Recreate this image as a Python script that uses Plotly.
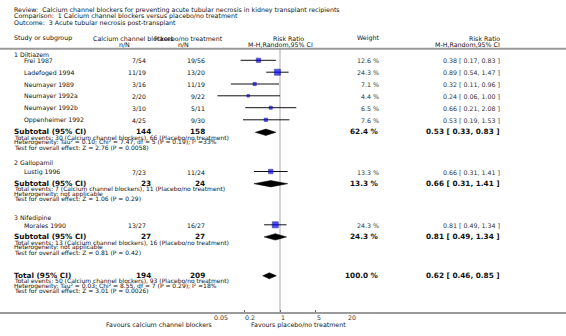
import math
import plotly.graph_objects as go

W, H = 566, 336

# ---------------- data ----------------
title_lines = [
    "Review:  Calcium channel blockers for preventing acute tubular necrosis in kidney transplant recipients",
    "Comparison:  1 Calcium channel blockers versus placebo/no treatment",
    "Outcome:  3 Acute tubular necrosis post-transplant",
]
col_headers = ["Study or subgroup", "Calcium channel blockers", "Placebo/no treatment",
               "Risk Ratio", "Weight", "Risk Ratio"]
sub_headers = ["n/N", "n/N", "M-H,Random,95% CI", "M-H,Random,95% CI"]

groups = ["1 Diltiazem", "2 Gallopamil", "3 Nifedipine"]
study_names = ["Frei 1987", "Ladefoged 1994", "Neumayer 1989", "Neumayer 1992a",
               "Neumayer 1992b", "Oppenheimer 1992", "Lustig 1996", "Morales 1990"]
study_group = [0, 0, 0, 0, 0, 0, 1, 2]
ccb_events = [7, 11, 3, 2, 3, 4, 7, 13]
ccb_total = [54, 19, 16, 20, 10, 25, 23, 27]
pbo_events = [19, 13, 11, 9, 5, 9, 11, 16]
pbo_total = [56, 20, 19, 22, 11, 30, 24, 27]
weights = [12.6, 24.3, 7.1, 4.4, 6.5, 7.6, 13.3, 24.3]
rr = [0.38, 0.89, 0.32, 0.24, 0.66, 0.53, 0.66, 0.81]
rr_lo = [0.17, 0.54, 0.11, 0.06, 0.21, 0.19, 0.31, 0.49]
rr_hi = [0.83, 1.47, 0.96, 1.00, 2.08, 1.53, 1.41, 1.34]

sub_ccb_n = [144, 23, 27]
sub_pbo_n = [158, 24, 27]
sub_weight = [62.4, 13.3, 24.3]
sub_rr = [0.53, 0.66, 0.81]
sub_lo = [0.33, 0.31, 0.49]
sub_hi = [0.83, 1.41, 1.34]
sub_ccb_ev = [30, 7, 13]
sub_pbo_ev = [66, 11, 16]
sub_het = ["Heterogeneity: Tau² = 0.10; Chi² = 7.47, df = 5 (P = 0.19); I² =33%",
           "Heterogeneity: not applicable",
           "Heterogeneity: not applicable"]
sub_test = ["Test for overall effect: Z = 2.76 (P = 0.0058)",
            "Test for overall effect: Z = 1.06 (P = 0.29)",
            "Test for overall effect: Z = 0.81 (P = 0.42)"]

total_ccb_n, total_pbo_n = 194, 209
total_weight = 100.0
total_rr, total_lo, total_hi = 0.62, 0.46, 0.85
total_ccb_ev, total_pbo_ev = 50, 93
total_het = "Heterogeneity: Tau² = 0.03; Chi² = 8.55, df = 7 (P = 0.29); I² =18%"
total_test = "Test for overall effect: Z = 3.01 (P = 0.0026)"

tick_vals = [0.05, 0.2, 1, 5, 20]
tick_text = ["0.05", "0.2", "1", "5", "20"]
left_label = "Favours calcium channel blockers"
right_label = "Favours placebo/no treatment"

# ---------------- layout (pixel positions) ----------------
FONT = "DejaVu Sans"
TXT = "#111111"
SMALL = 6.3
NOTE = 6.0
ROW = 6.2
BOLD = 7.3

title_y = [9.8, 16.4, 23.0]
head_y1, head_y2 = 38.3, 44.5
group_y = [55.0, 163.3, 218.3]
study_y = [60.8, 72.7, 84.5, 96.3, 108.2, 120.3, 172.0, 225.3]
sub_y = [131.8, 183.2, 236.4]
total_y = 275.0
note_dy = [5.7, 10.7, 15.7]
axis_y = 313.0
header_line_y = 48.8

X_NAME, X_STUDY = 13, 23
X_C1, X_C1B = 146.5, 151.5
X_C2, X_C2B = 205.8, 206.0
X_W, X_RR = 379.5, 500.5
AX_L, AX_R = 213.3, 346.7

annotations = []


def txt(x, y, s, size=SMALL, anchor="left", bold=False, color=TXT):
    annotations.append(dict(
        xref="paper", yref="paper", x=x / W, y=1 - y / H, text=("<b>%s</b>" % s) if bold else s,
        showarrow=False, xanchor=anchor, yanchor="middle", borderpad=0,
        font=dict(family=FONT, size=size, color=color)))


# titles
for s, y in zip(title_lines, title_y):
    txt(X_NAME, y, s, SMALL)

# headers
txt(X_NAME, head_y1, col_headers[0], SMALL)
txt(91.5, head_y1, col_headers[1], SMALL)
txt(152.5, head_y1, col_headers[2], SMALL)
txt(288, head_y1, col_headers[3], SMALL, "center")
txt(X_W, head_y1, col_headers[4], SMALL, "right")
txt(X_RR, head_y1, col_headers[5], SMALL, "right")
txt(125, head_y2, sub_headers[0], SMALL, "center")
txt(183, head_y2, sub_headers[1], SMALL, "center")
txt(280, head_y2, sub_headers[2], SMALL, "center")
txt(X_RR, head_y2, sub_headers[3], SMALL, "right")

# groups
for g, y in zip(groups, group_y):
    txt(X_NAME, y, g, ROW)

# studies
for i, name in enumerate(study_names):
    y = study_y[i]
    txt(X_STUDY, y, name, ROW)
    txt(X_C1, y, "%d/%d" % (ccb_events[i], ccb_total[i]), ROW, "right")
    txt(X_C2, y, "%d/%d" % (pbo_events[i], pbo_total[i]), ROW, "right")
    txt(X_W, y, "%.1f %%" % weights[i], SMALL, "right", color="#333333")
    txt(X_RR, y, "%.2f [ %.2f, %.2f ]" % (rr[i], rr_lo[i], rr_hi[i]), SMALL, "right", color="#333333")

# subtotals
for k in range(len(groups)):
    y = sub_y[k]
    txt(X_NAME, y, "Subtotal (95% CI)", BOLD, bold=True)
    txt(X_C1B, y, str(sub_ccb_n[k]), BOLD, "right", bold=True)
    txt(X_C2B, y, str(sub_pbo_n[k]), BOLD, "right", bold=True)
    txt(X_W, y, "%.1f %%" % sub_weight[k], BOLD, "right", bold=True)
    txt(X_RR, y, "%.2f [ %.2f, %.2f ]" % (sub_rr[k], sub_lo[k], sub_hi[k]), BOLD, "right", bold=True)
    txt(X_NAME, y + note_dy[0],
        "Total events: %d (Calcium channel blockers), %d (Placebo/no treatment)" % (sub_ccb_ev[k], sub_pbo_ev[k]), NOTE)
    txt(X_NAME, y + note_dy[1], sub_het[k], NOTE)
    txt(X_NAME, y + note_dy[2], sub_test[k], NOTE)

# total
txt(X_NAME, total_y, "Total (95% CI)", BOLD, bold=True)
txt(X_C1B, total_y, str(total_ccb_n), BOLD, "right", bold=True)
txt(X_C2B, total_y, str(total_pbo_n), BOLD, "right", bold=True)
txt(X_W, total_y, "%.1f %%" % total_weight, BOLD, "right", bold=True)
txt(X_RR, total_y, "%.2f [ %.2f, %.2f ]" % (total_rr, total_lo, total_hi), BOLD, "right", bold=True)
txt(X_NAME, total_y + note_dy[0],
    "Total events: %d (Calcium channel blockers), %d (Placebo/no treatment)" % (total_ccb_ev, total_pbo_ev), NOTE)
txt(X_NAME, total_y + note_dy[1], total_het, NOTE)
txt(X_NAME, total_y + note_dy[2], total_test, NOTE)

# axis tick labels (left aligned at tick) and favours labels
for v, t in zip(tick_vals, tick_text):
    annotations.append(dict(
        xref="x", yref="paper", x=math.log10(v), y=1 - 317.6 / H, text=t, showarrow=False,
        xanchor="left", yanchor="middle", borderpad=0,
        font=dict(family=FONT, size=SMALL, color="#333333")))
txt(AX_L, 324.5, left_label, SMALL, "right")
txt(AX_R, 324.5, right_label, SMALL, "right")

# ---------------- traces ----------------
fig = go.Figure()

# line of no effect
fig.add_trace(go.Scatter(x=[1, 1], y=[header_line_y, axis_y], mode="lines",
                         line=dict(color="#d4d4d4", width=2), hoverinfo="skip"))

# study CIs and squares
for i in range(len(study_names)):
    y = study_y[i] - 0.5
    fig.add_trace(go.Scatter(x=[rr_lo[i], rr_hi[i]], y=[y, y], mode="lines",
                             line=dict(color="#111111", width=1), hoverinfo="skip"))
fig.add_trace(go.Scatter(
    x=rr, y=[y - 0.5 for y in study_y], mode="markers",
    marker=dict(symbol="square", color="#0000ff",
                size=[1.22 * math.sqrt(w) for w in weights],
                line=dict(color="#000080", width=0.7)),
    hoverinfo="skip"))


def diamond(lo, est, hi, yc, h):
    fig.add_trace(go.Scatter(x=[lo, est, hi, est, lo], y=[yc, yc - h, yc, yc + h, yc],
                             mode="lines", fill="toself", fillcolor="#000000",
                             line=dict(color="#000000", width=0.5), hoverinfo="skip"))


for k in range(len(groups)):
    diamond(sub_lo[k], sub_rr[k], sub_hi[k], sub_y[k] + 0.5, 3.2)
diamond(total_lo, total_rr, total_hi, total_y + 0.8, 3.0)

# ---------------- layout ----------------
shapes = [
    dict(type="line", xref="paper", yref="paper", x0=0, x1=1,
         y0=1 - header_line_y / H, y1=1 - header_line_y / H, line=dict(color="#9a9a9a", width=2)),
    dict(type="line", xref="paper", yref="paper", x0=0, x1=1,
         y0=1 - axis_y / H, y1=1 - axis_y / H, line=dict(color="#9a9a9a", width=2)),
]

fig.update_layout(
    width=W, height=H, margin=dict(l=0, r=0, t=0, b=0),
    paper_bgcolor="white", plot_bgcolor="rgba(0,0,0,0)",
    showlegend=False, annotations=annotations, shapes=shapes,
    xaxis=dict(type="log", range=[math.log10(tick_vals[0]), math.log10(tick_vals[-1])],
               domain=[AX_L / W, AX_R / W], anchor="free", position=1 - axis_y / H,
               showgrid=False, zeroline=False, showline=False,
               tickmode="array", tickvals=tick_vals, ticktext=tick_text,
               showticklabels=False, ticks="inside", ticklen=3, tickwidth=1, tickcolor="#666666",
               fixedrange=True),
    yaxis=dict(range=[H, 0], domain=[0, 1], visible=False, fixedrange=True),
)

fig.write_html("out.html", config={"displayModeBar": False, "staticPlot": True},
               post_script="document.body.style.margin='0';document.body.style.overflow='hidden';")
